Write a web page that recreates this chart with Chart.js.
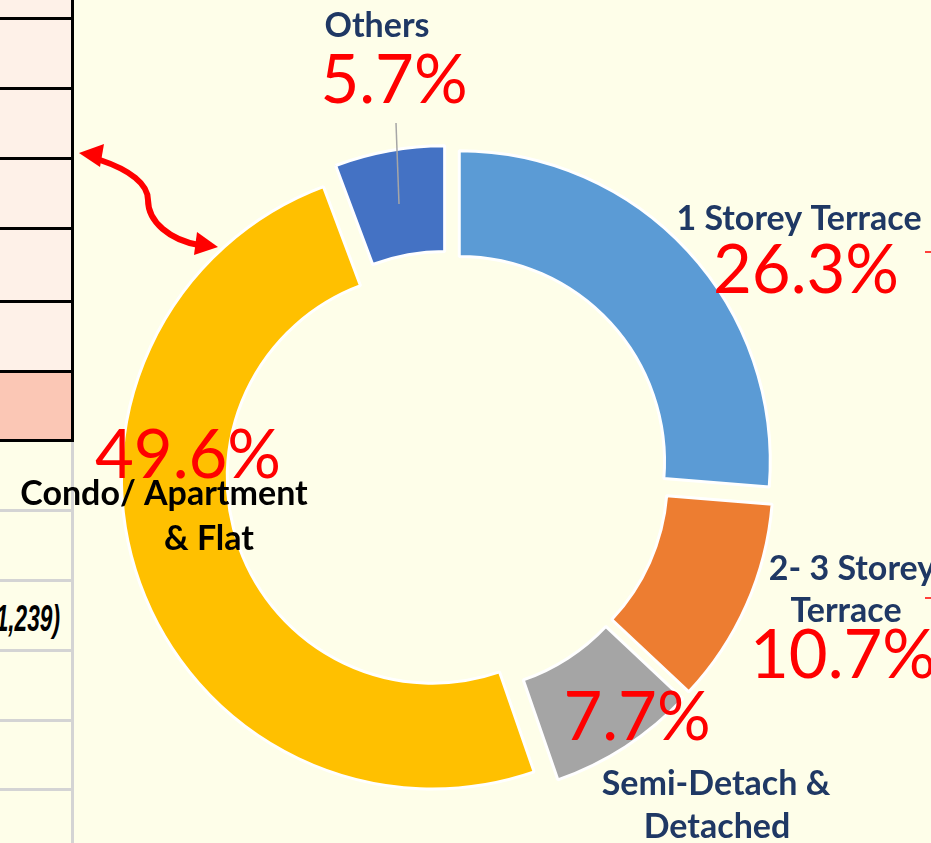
<!DOCTYPE html>
<html><head><meta charset="utf-8">
<script src="https://cdn.jsdelivr.net/npm/chart.js@4/dist/chart.umd.min.js"></script>
<style>
html,body{margin:0;padding:0;background:#FEFEE9;width:931px;height:843px;overflow:hidden;}
#wrap{position:relative;width:931px;height:843px;overflow:hidden;}
.blk{position:absolute;}
canvas{position:absolute;left:0;top:0;}
#amt{position:absolute;left:-240px;width:300px;top:601px;text-align:right;font:italic bold 36px "Liberation Sans",Arial,sans-serif;line-height:36px;color:#000;white-space:nowrap;transform:scaleX(0.63);transform-origin:100% 50%;}
</style></head><body>
<div id="wrap">
  <!-- table fragment on the left -->
  <div class="blk" style="left:0;top:0;width:72px;height:371px;background:#FEF1E8"></div>
  <div class="blk" style="left:0;top:371px;width:72px;height:70px;background:#FBC7B5"></div>
  <div class="blk" style="left:0;top:17px;width:73px;height:3px;background:#000"></div>
  <div class="blk" style="left:0;top:87px;width:73px;height:3px;background:#000"></div>
  <div class="blk" style="left:0;top:157px;width:73px;height:3px;background:#000"></div>
  <div class="blk" style="left:0;top:227px;width:73px;height:3px;background:#000"></div>
  <div class="blk" style="left:0;top:300px;width:73px;height:3px;background:#000"></div>
  <div class="blk" style="left:0;top:370px;width:73px;height:3px;background:#000"></div>
  <div class="blk" style="left:0;top:439px;width:73px;height:3px;background:#000"></div>
  <div class="blk" style="left:71px;top:0;width:3px;height:442px;background:#000"></div>
  <div class="blk" style="left:0;top:509px;width:72px;height:3px;background:#D4D4D4"></div>
  <div class="blk" style="left:0;top:579px;width:72px;height:3px;background:#D4D4D4"></div>
  <div class="blk" style="left:0;top:649px;width:72px;height:3px;background:#D4D4D4"></div>
  <div class="blk" style="left:0;top:719px;width:72px;height:3px;background:#D4D4D4"></div>
  <div class="blk" style="left:0;top:788px;width:72px;height:3px;background:#D4D4D4"></div>
  <div class="blk" style="left:71px;top:442px;width:3px;height:401px;background:#D4D4D4"></div>
  <div id="amt">(1,239)</div>
  <!-- curved double arrow -->
  <svg class="blk" style="left:0;top:0" width="931" height="843">
    <path d="M100 160 C 130 170, 148 184, 148 200 C 148 222, 170 240, 199 245" fill="none" stroke="#FF0000" stroke-width="6"/>
    <polygon points="79,153 104,144 100,167" fill="#FF0000"/>
    <polygon points="218,247 197,232 194,255" fill="#FF0000"/>
  </svg>
  <canvas id="c" width="931" height="843"></canvas>
</div>
<script>
// ---- data ----
const categories = [
  ["1 Storey Terrace"],
  ["2- 3 Storey", "Terrace"],
  ["Semi-Detach &", "Detached"],
  ["Condo/ Apartment", "& Flat"],
  ["Others"]
];
const shares = [26.3, 10.7, 7.7, 49.6, 5.7];

// ---- styles ----
const colors = ["#5B9BD5", "#ED7D31", "#A5A5A5", "#FFC000", "#4472C4"];
const explodePx = 16;   // every slice pulled out along its mid angle (pure translation)
const navy = "#1F3864";
// label placements: name lines (center x per line, first baseline, line gap, colour), percent (center x, baseline)
const labelLayout = [
  {lineX: [799], ny: 230, gap: 42, color: navy, px: 806, py: 293},
  {lineX: [852, 846], ny: 580, gap: 42, color: navy, px: 843, py: 678},
  {lineX: [716, 717], ny: 795, gap: 43, color: navy, px: 637, py: 740},
  {lineX: [164, 209], ny: 505, gap: 45, color: "#000000", px: 188, py: 478},
  {lineX: [377], ny: 37, gap: 42, color: navy, px: 394, py: 103}
];

// explode slices: translate each arc along its bisector before Chart.js draws it
const explodePlugin = {
  id: 'explode',
  beforeDatasetsDraw(chart) {
    chart.getDatasetMeta(0).data.forEach(arc => {
      if (arc._exploded) return;
      const orig = arc.draw.bind(arc);
      arc.draw = function (ctx) {
        const mid = (this.startAngle + this.endAngle) / 2;
        ctx.save();
        ctx.translate(Math.cos(mid) * explodePx, Math.sin(mid) * explodePx);
        orig(ctx);
        ctx.restore();
      };
      arc._exploded = true;
    });
  }
};

const labelPlugin = {
  id: 'labels',
  afterDatasetsDraw(chart) {
    const ctx = chart.ctx;
    ctx.save();
    // leader line for Others
    ctx.strokeStyle = "#A6A6A6"; ctx.lineWidth = 1.5;
    ctx.beginPath(); ctx.moveTo(396, 123); ctx.lineTo(399, 204); ctx.stroke();
    // cut-off red leader stubs on the right edge
    ctx.strokeStyle = "#FF0000"; ctx.lineWidth = 1.5;
    ctx.beginPath(); ctx.moveTo(925, 252); ctx.lineTo(931, 252); ctx.stroke();
    ctx.beginPath(); ctx.moveTo(925, 598); ctx.lineTo(931, 598); ctx.stroke();
    ctx.textAlign = 'center';
    ctx.textBaseline = 'alphabetic';
    categories.forEach((lines, i) => {
      const L = labelLayout[i];
      ctx.fillStyle = L.color;
      ctx.font = 'bold 34px Lato, "Open Sans", sans-serif';
      lines.forEach((t, k) => ctx.fillText(t, L.lineX[k], L.ny + k * L.gap));
    });
    shares.forEach((v, i) => {
      const L = labelLayout[i];
      ctx.fillStyle = "#FF0000";
      ctx.font = '67px Lato, "Open Sans", sans-serif';
      ctx.fillText(v.toFixed(1) + '%', L.px, L.py);
    });
    ctx.restore();
  }
};

new Chart(document.getElementById('c').getContext('2d'), {
  type: 'doughnut',
  data: {
    labels: categories.map(l => l.join(' ')),
    datasets: [{
      data: shares,
      backgroundColor: colors,
      borderColor: '#FFFFFF',
      borderWidth: 3,
      radius: 311,
      cutout: '66%',
      clip: false
    }]
  },
  options: {
    responsive: false,
    animation: false,
    radius: 311,
    cutout: '66%',
    layout: {padding: {left: 0, right: 36, top: 102, bottom: 0}},
    plugins: {legend: {display: false}, tooltip: {enabled: false}}
  },
  plugins: [explodePlugin, labelPlugin]
});
</script>
</body></html>
